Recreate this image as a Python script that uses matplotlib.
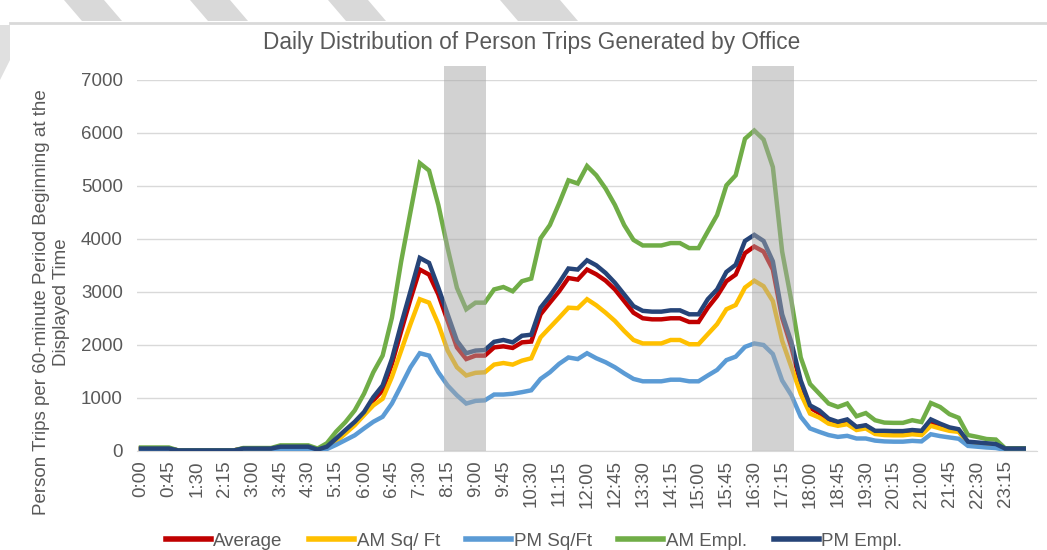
import matplotlib
matplotlib.use("Agg")
import matplotlib.pyplot as plt
from matplotlib.patches import Polygon
from matplotlib.lines import Line2D

plt.rcParams['font.family'] = ['Liberation Sans', 'DejaVu Sans']

# 15-minute periods, 0:00 .. 23:45 (96 categories), labelled every 45 minutes
tick_labels = ['0:00', '0:45', '1:30', '2:15', '3:00', '3:45', '4:30', '5:15',
               '6:00', '6:45', '7:30', '8:15', '9:00', '9:45', '10:30', '11:15',
               '12:00', '12:45', '13:30', '14:15', '15:00', '15:45', '16:30', '17:15',
               '18:00', '18:45', '19:30', '20:15', '21:00', '21:45', '22:30', '23:15']

average = [40, 40, 40, 40, 5, 5, 5, 5, 5, 5, 5, 40, 40, 40, 40, 70, 70, 70, 70, 20,
           70, 200, 360, 510, 700, 950, 1140, 1640, 2260, 2860, 3420, 3325, 2950, 2450, 1950, 1730,
           1795, 1795, 1950, 1970, 1940, 2045, 2060, 2575, 2795, 3010, 3260, 3230, 3420, 3330, 3210, 3045,
           2825, 2605, 2500, 2480, 2480, 2500, 2500, 2430, 2430, 2700, 2920, 3200, 3325, 3730, 3855, 3760,
           3420, 2510, 1950, 1260, 810, 710, 575, 510, 555, 440, 470, 355, 345, 340, 340, 360,
           345, 550, 470, 405, 375, 155, 140, 125, 110, 35, 35, 35]
am_sqft = [35, 35, 35, 35, 5, 5, 5, 5, 5, 5, 5, 35, 35, 35, 35, 60, 60, 60, 60, 15,
           60, 170, 325, 480, 670, 855, 980, 1390, 1890, 2390, 2860, 2795, 2390, 1890, 1575, 1420,
           1470, 1480, 1625, 1655, 1625, 1700, 1745, 2140, 2325, 2510, 2700, 2690, 2860, 2745, 2605, 2450,
           2260, 2090, 2025, 2025, 2025, 2090, 2090, 2010, 2010, 2200, 2390, 2670, 2750, 3080, 3210, 3105,
           2825, 2075, 1575, 1075, 700, 625, 510, 470, 500, 390, 420, 315, 295, 290, 290, 310,
           295, 470, 420, 375, 355, 140, 125, 110, 100, 30, 30, 30]
pm_sqft = [20, 20, 20, 20, 0, 0, 0, 0, 0, 0, 0, 20, 20, 20, 20, 25, 25, 25, 25, 5,
           30, 110, 200, 290, 420, 545, 640, 890, 1230, 1575, 1840, 1795, 1480, 1230, 1045, 890,
           940, 950, 1060, 1060, 1075, 1105, 1140, 1355, 1480, 1640, 1760, 1730, 1840, 1745, 1670, 1575,
           1460, 1355, 1310, 1310, 1310, 1340, 1340, 1310, 1310, 1420, 1525, 1710, 1775, 1960, 2025, 1995,
           1825, 1325, 1045, 640, 420, 355, 295, 260, 280, 230, 230, 190, 175, 170, 170, 185,
           175, 310, 275, 250, 225, 90, 75, 60, 50, 15, 15, 15]
am_empl = [60, 60, 60, 60, 5, 5, 5, 5, 5, 5, 5, 50, 50, 50, 50, 100, 100, 100, 100, 40,
           140, 360, 540, 760, 1075, 1480, 1795, 2510, 3575, 4510, 5430, 5290, 4640, 3825, 3075, 2670,
           2795, 2795, 3045, 3090, 3010, 3200, 3250, 4010, 4260, 4670, 5105, 5045, 5375, 5200, 4950, 4640,
           4260, 3980, 3875, 3875, 3875, 3920, 3920, 3825, 3825, 4140, 4450, 5010, 5200, 5890, 6045, 5875,
           5355, 3760, 2825, 1760, 1260, 1075, 890, 825, 890, 650, 710, 575, 530, 525, 525, 575,
           540, 900, 825, 690, 620, 295, 260, 220, 210, 45, 45, 45]
pm_empl = [40, 40, 40, 40, 5, 5, 5, 5, 5, 5, 5, 40, 40, 40, 40, 75, 75, 75, 75, 20,
           75, 230, 390, 545, 730, 1010, 1230, 1730, 2390, 3010, 3640, 3545, 3075, 2575, 2075, 1840,
           1890, 1900, 2055, 2090, 2045, 2170, 2190, 2700, 2920, 3170, 3440, 3420, 3595, 3500, 3355, 3170,
           2950, 2730, 2640, 2625, 2625, 2650, 2650, 2575, 2575, 2860, 3045, 3375, 3510, 3960, 4075, 3960,
           3575, 2575, 2045, 1325, 855, 760, 605, 545, 590, 450, 480, 375, 375, 370, 370, 390,
           375, 590, 510, 440, 405, 170, 155, 140, 125, 40, 40, 40]

series = [
    ('Average', average, '#C00000'),
    ('AM Sq/ Ft', am_sqft, '#FFC000'),
    ('PM Sq/Ft', pm_sqft, '#5B9BD5'),
    ('AM Empl.', am_empl, '#70AD47'),
    ('PM Empl.', pm_empl, '#264478'),
]

# peak hour windows (in 15-min category units)
peaks = [(32.6, 37.1), (65.8, 70.3)]

txt = '#595959'

fig = plt.figure(figsize=(10.47, 5.5), dpi=100)
ax = fig.add_axes([0.1306, 0.1806, 0.8596, 0.674])

x = list(range(len(average)))
for name, vals, col in series:
    ax.plot(x, vals, color=col, lw=3.2, solid_joinstyle='miter', label=name, zorder=3)

for a, b in peaks:
    ax.axvspan(a, b, ymin=0, ymax=1.038, color='#a6a6a6', alpha=0.5, lw=0,
               zorder=4, clip_on=False)

ax.set_xlim(-0.46, 96.4)
ax.set_ylim(0, 7000)
ax.set_yticks(range(0, 7001, 1000))
ax.set_xticks(range(0, 96, 3))
ax.set_xticklabels(tick_labels, rotation=90)
ax.yaxis.grid(True, color='#d9d9d9', lw=1)
ax.set_axisbelow(True)
for s in ['top', 'right', 'left']:
    ax.spines[s].set_visible(False)
ax.spines['bottom'].set_color('#d9d9d9')
ax.tick_params(axis='both', length=0, labelsize=13.5, labelcolor=txt)
ax.tick_params(axis='x', pad=7)
ax.tick_params(axis='y', pad=10)

fig.text(0.508, 0.923, 'Daily Distribution of Person Trips Generated by Office',
         ha='center', va='center', fontsize=16.3, color=txt)
fig.text(0.049, 0.45, 'Person Trips per 60-minute Period Beginning at the\nDisplayed Time',
         ha='center', va='center', rotation=90, fontsize=13.5, color=txt,
         multialignment='center')

handles = [Line2D([], [], color=c, lw=4) for _, _, c in series]
fig.legend(handles, [n for n, _, _ in series], loc='center', bbox_to_anchor=(0.51, 0.016),
           ncol=5, frameon=False, fontsize=13.5, labelcolor=txt, handlelength=2.4,
           handletextpad=0.15, columnspacing=1.4)

# page furniture along the top edge
fig.add_artist(Line2D([10 / 1047, 1], [1 - 23 / 550] * 2, transform=fig.transFigure,
                      color='#d9d9d9', lw=2))
for x0 in [64, 190, 328, 500]:
    w = 58 if x0 != 500 else 78
    pts = [(x0, 0), (x0 + w - 18, 0), (x0 + w, 21), (x0 + 18, 21)]
    fig.add_artist(Polygon([(px / 1047, 1 - py / 550) for px, py in pts], closed=True,
                           transform=fig.transFigure, color='#d9d9d9', lw=0))
fig.add_artist(Polygon([(p / 1047, 1 - q / 550) for p, q in [(0, 25), (10, 25), (10, 60), (0, 80)]],
                       closed=True, transform=fig.transFigure, color='#e0e0e0', lw=0))

fig.savefig('out.png', dpi=100)
